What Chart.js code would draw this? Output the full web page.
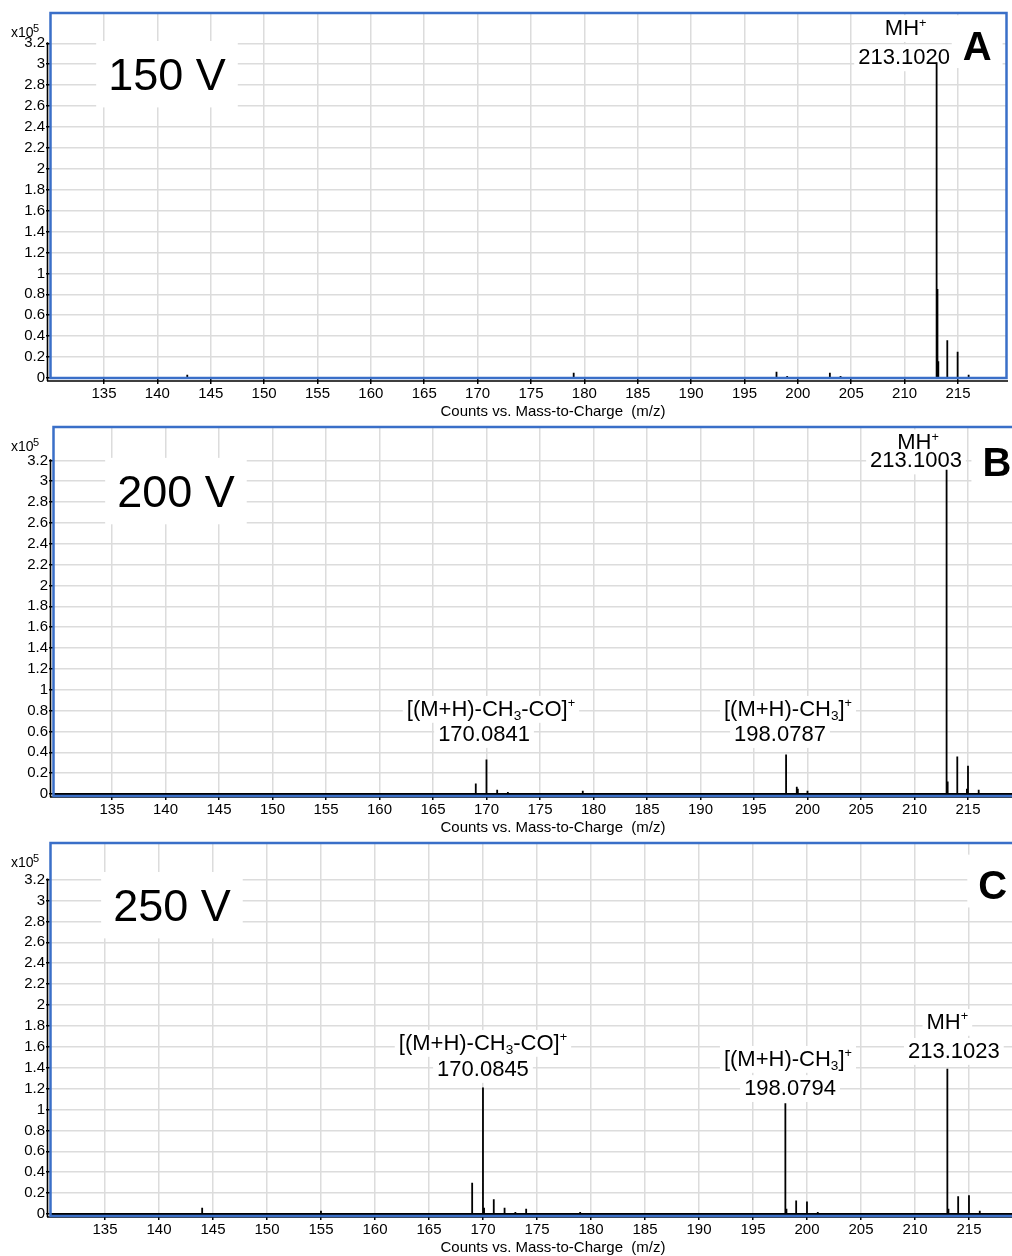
<!DOCTYPE html>
<html>
<head>
<meta charset="utf-8">
<script src="https://cdn.jsdelivr.net/npm/chart.js@4.4.0/dist/chart.umd.min.js"></script>
<style>
html, body { margin:0; padding:0; background:#fff; width:1012px; height:1256px; overflow:hidden; }
canvas { position:absolute; left:0; }
</style>
</head>
<body>
<canvas id="panelA" width="1012" height="426" style="top:0px"></canvas>
<canvas id="panelB" width="1020" height="426" style="top:414px"></canvas>
<canvas id="panelC" width="1020" height="426" style="top:830px"></canvas>
<script>
// tick values (m/z and counts x10^5)
var xTickValues = [135, 140, 145, 150, 155, 160, 165, 170, 175, 180, 185, 190, 195, 200, 205, 210, 215];
var yTickValues = [0, 0.2, 0.4, 0.6, 0.8, 1, 1.2, 1.4, 1.6, 1.8, 2, 2.2, 2.4, 2.6, 2.8, 3, 3.2];

// A - 150 V
var mzA  = [132.0, 142.8, 147.0, 157.8, 170.0, 179.0, 180.0, 191.0, 198.0, 199.0, 201.0, 203.0, 204.0, 213.0, 213.08, 213.16, 214.0, 214.92, 215.0, 216.0];
var intA = [0.01, 0.03, 0.01, 0.01, 0.01, 0.05, 0.01, 0.01, 0.06, 0.02, 0.01, 0.05, 0.02, 3.02, 0.85, 0.16, 0.36, 0.06, 0.25, 0.03];

// B - 200 V
var mzB  = [144.0, 155.0, 169.0, 170.0, 171.0, 172.0, 174.0, 179.0, 198.0, 199.0, 199.1, 200.0, 203.0, 213.0, 213.1, 214.0, 214.9, 215.0, 216.0];
var intB = [0.01, 0.01, 0.10, 0.33, 0.04, 0.02, 0.01, 0.03, 0.38, 0.07, 0.05, 0.03, 0.01, 3.11, 0.12, 0.36, 0.05, 0.27, 0.04];

// C - 250 V
var mzC  = [131.0, 135.0, 142.0, 143.0, 144.0, 145.0, 155.0, 156.0, 157.0, 159.0, 168.0, 169.0, 170.0, 170.1, 171.0, 172.0, 173.0, 174.0, 179.0, 185.0, 198.0, 198.1, 199.0, 200.0, 201.0, 213.0, 213.1, 214.0, 215.0, 216.0];
var intC = [0.01, 0.01, 0.01, 0.01, 0.06, 0.01, 0.03, 0.01, 0.01, 0.01, 0.01, 0.30, 1.21, 0.06, 0.14, 0.06, 0.02, 0.05, 0.02, 0.01, 1.06, 0.05, 0.13, 0.12, 0.02, 1.39, 0.05, 0.17, 0.18, 0.03];

// annotations (anchored in data units: x = m/z, y = baseline of text in counts x10^5)
var labelsA = [
	{x: 210.1, y: 3.28, text: 'MH^{+}'},
	{x: 209.95, y: 3.0, text: '213.1020'},
	{x: 216.8, y: 3.04, text: 'A', kind: 'letter'},
	{x: 140.9, y: 2.75, text: '150 V', kind: 'volt'}
];
var labelsB = [
	{x: 210.33, y: 3.306, text: 'MH^{+}'},
	{x: 210.14, y: 3.133, text: '213.1003'},
	{x: 217.7, y: 3.046, text: 'B', kind: 'letter'},
	{x: 140.98, y: 2.75, text: '200 V', kind: 'volt'},
	{x: 170.42, y: 0.75, text: '[(M+H)-CH_{3}-CO]^{+}'},
	{x: 169.77, y: 0.509, text: '170.0841'},
	{x: 198.18, y: 0.75, text: '[(M+H)-CH_{3}]^{+}'},
	{x: 197.43, y: 0.509, text: '198.0787'}
];
var labelsC = [
	{x: 213.0, y: 1.772, text: 'MH^{+}'},
	{x: 213.6, y: 1.494, text: '213.1023'},
	{x: 217.2, y: 3.01, text: 'C', kind: 'letter'},
	{x: 141.2, y: 2.80, text: '250 V', kind: 'volt'},
	{x: 170.0, y: 1.571, text: '[(M+H)-CH_{3}-CO]^{+}'},
	{x: 170.0, y: 1.322, text: '170.0845'},
	{x: 198.24, y: 1.418, text: '[(M+H)-CH_{3}]^{+}'},
	{x: 198.43, y: 1.139, text: '198.0794'}
];

var FONT = '"Liberation Sans", Arial, Helvetica, sans-serif';
var BLUE = '#3a6fc8';
var GRID = '#dcdcdc';

var styles = {
	peak:   {size: 22, bold: false, pad: [4, 4, 7]},
	letter: {size: 40, bold: true,  pad: [11, 16, 8]},
	volt:   {size: 45, bold: false, pad: [12, 17, 17]}
};

function parseRich(str) {
	var parts = [], re = /([_^])\{([^}]*)\}|([^_^]+)/g, m;
	while ((m = re.exec(str))) {
		if (m[3]) parts.push({t: m[3], k: 'n'});
		else parts.push({t: m[2], k: m[1] == '_' ? 'sub' : 'sup'});
	}
	return parts;
}

function partFont(p, size, bold) {
	var s = p.k == 'n' ? size : (p.k == 'sub' ? size * 0.62 : size * 0.58);
	return (bold ? 'bold ' : '') + s + 'px ' + FONT;
}

function measure(ctx, lab, st) {
	var parts = parseRich(lab.text);
	var widths = parts.map(function(p){ ctx.font = partFont(p, st.size, st.bold); return ctx.measureText(p.t).width; });
	var total = widths.reduce(function(a, b){ return a + b; }, 0);
	return {parts: parts, widths: widths, total: total};
}

function spectrum(mz, inten, xMin, xMax) {
	var pts = [{x: xMin, y: 0}];
	mz.forEach(function(m, i){
		pts.push({x: m, y: 0}, {x: m, y: inten[i]}, {x: m, y: 0});
	});
	pts.push({x: xMax, y: 0});
	return pts;
}

var decor = {
	id: 'msDecor',
	beforeDatasetsDraw: function(chart) {
		var ctx = chart.ctx, o = chart.options.plugins.msDecor;
		var xs = chart.scales.x, ys = chart.scales.y;
		ctx.save();
		// white boxes first, then text
		var items = o.labels.map(function(lab){
			var st = styles[lab.kind || 'peak'];
			var mm = measure(ctx, lab, st);
			return {lab: lab, st: st, mm: mm, cx: xs.getPixelForValue(lab.x), base: ys.getPixelForValue(lab.y)};
		});
		items.forEach(function(it){
			var p = it.st.pad;
			ctx.fillStyle = '#fff';
			ctx.fillRect(it.cx - it.mm.total / 2 - p[0], it.base - it.st.size * 0.72 - p[1],
				it.mm.total + 2 * p[0], it.st.size * 0.72 + p[1] + p[2]);
		});
		items.forEach(function(it){
			var x = it.cx - it.mm.total / 2;
			ctx.fillStyle = '#000';
			ctx.textAlign = 'left';
			ctx.textBaseline = 'alphabetic';
			it.mm.parts.forEach(function(p, i){
				var y = it.base;
				if (p.k == 'sub') y += it.st.size * 0.2;
				if (p.k == 'sup') y -= it.st.size * 0.38;
				ctx.font = partFont(p, it.st.size, it.st.bold);
				ctx.fillText(p.t, x, y);
				x += it.mm.widths[i];
			});
		});
		ctx.restore();
	},
	afterDatasetsDraw: function(chart) {
		var ctx = chart.ctx, a = chart.chartArea, o = chart.options.plugins.msDecor;
		var ys = chart.scales.y;
		ctx.save();
		// black axis lines
		ctx.strokeStyle = '#000';
		ctx.lineWidth = 1.6;
		ctx.beginPath();
		ctx.moveTo(a.left - 3, a.bottom + 3);
		ctx.lineTo(a.right + 2, a.bottom + 3);
		ctx.moveTo(a.left - 2.5, ys.getPixelForValue(3.2) - 1);
		ctx.lineTo(a.left - 2.5, a.bottom + 3);
		ctx.stroke();
		// blue frame
		ctx.strokeStyle = BLUE;
		ctx.lineWidth = 2.5;
		ctx.strokeRect(a.left + 0.5, a.top, a.right - a.left, a.bottom - a.top + o.frameDrop);
		// exponent
		ctx.fillStyle = '#000';
		ctx.textAlign = 'left';
		ctx.textBaseline = 'alphabetic';
		ctx.font = '14px ' + FONT;
		ctx.fillText('x10', 11, a.top + 24);
		ctx.font = '11px ' + FONT;
		ctx.fillText('5', 11 + 22, a.top + 19);
		// axis title
		ctx.font = '15px ' + FONT;
		ctx.textAlign = 'center';
		ctx.fillText('Counts vs. Mass-to-Charge  (m/z)', 553, a.bottom + 38);
		ctx.restore();
	}
};

function makePanel(p) {
	var canvas = document.getElementById(p.id);
	var H = canvas.height;
	return new Chart(canvas, {
		type: 'scatter',
		data: {
			datasets: [{
				data: spectrum(p.mz, p.inten, p.xMin, p.xMax),
				showLine: true,
				borderColor: '#000',
				borderWidth: 1.8,
				borderJoinStyle: 'bevel',
				pointRadius: 0,
				tension: 0,
				clip: 4
			}]
		},
		options: {
			responsive: false,
			animation: false,
			devicePixelRatio: 1,
			layout: {padding: {top: 13, right: 6, left: 0, bottom: 0}},
			plugins: {
				legend: {display: false},
				tooltip: {enabled: false},
				msDecor: {labels: p.labels, frameDrop: p.frameDrop}
			},
			scales: {
				x: {
					type: 'linear',
					min: p.xMin,
					max: p.xMax,
					afterBuildTicks: function(s){ s.ticks = xTickValues.map(function(v){ return {value: v}; }); },
					afterFit: function(s){ s.height = H - p.bottom; },
					grid: {color: GRID, lineWidth: 1.5, tickColor: '#000', tickLength: 6},
					border: {display: false},
					ticks: {color: '#000', font: {family: FONT, size: 15}, padding: 1, maxRotation: 0, autoSkip: false,
						callback: function(v){ return String(v); }}
				},
				y: {
					type: 'linear',
					min: 0,
					max: p.yMax,
					afterBuildTicks: function(s){ s.ticks = yTickValues.map(function(v){ return {value: v}; }); },
					afterFit: function(s){ s.width = p.left; },
					grid: {color: GRID, lineWidth: 1.5, tickColor: '#000', tickLength: 4},
					border: {display: false},
					ticks: {color: '#000', font: {family: FONT, size: 15}, padding: 1, autoSkip: false,
						callback: function(v){ return String(+v.toFixed(1)); }}
				}
			}
		},
		plugins: [decor]
	});
}

makePanel({id: 'panelA', mz: mzA, inten: intA, labels: labelsA, xMin: 129.94, xMax: 219.5, yMax: 3.49, left: 50, bottom: 378, frameDrop: 0});
makePanel({id: 'panelB', mz: mzB, inten: intB, labels: labelsB, xMin: 129.49, xMax: 219.3, yMax: 3.52, left: 53, bottom: 380, frameDrop: 2});
makePanel({id: 'panelC', mz: mzC, inten: intC, labels: labelsC, xMin: 129.91, xMax: 219.17, yMax: 3.55, left: 50, bottom: 384, frameDrop: 2});
</script>
</body>
</html>
